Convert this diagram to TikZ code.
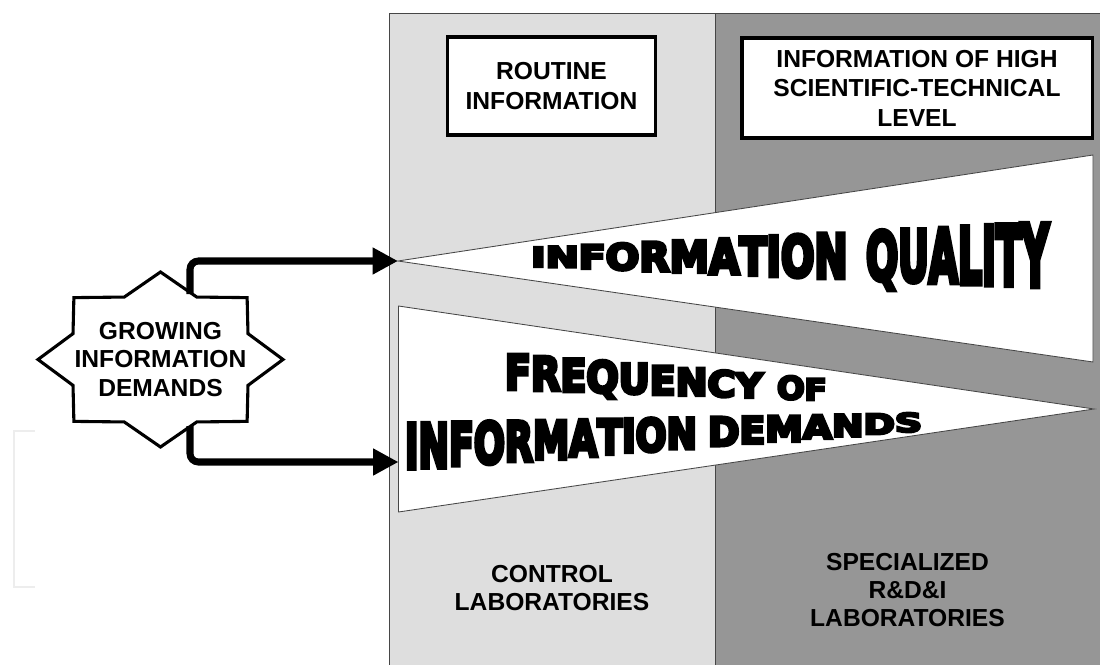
\documentclass[tikz,border=0pt]{standalone}
\usepackage{fontspec}
\usepackage{graphicx}
\usepackage{xcolor}
\usepackage{tikz}
\usetikzlibrary{arrows.meta}
\setmainfont{Liberation Sans}
\newfontfamily\artfont{DejaVu Sans Bold}[FakeBold=8]

\definecolor{lightcol}{RGB}{222,222,222}
\definecolor{darkcol}{RGB}{150,150,150}
\definecolor{edgecol}{RGB}{70,70,70}

\tikzset{
    column/.style={draw=edgecol, line width=0.6pt},
    infobox/.style={draw, line width=2.2pt, fill=white, align=center, font=\bfseries\fontsize{17.5}{21}\selectfont},
    labtext/.style={align=center, font=\bfseries\fontsize{17.5}{20}\selectfont},
    wedge/.style={draw=edgecol, line width=0.6pt, fill=white},
    starshape/.style={draw, line width=2.2pt, fill=white, line join=miter},
    arrow/.style={line width=5pt, rounded corners=6pt, -{Triangle[length=18pt,width=18pt]}},
    artletter/.style={anchor=base west, inner sep=0pt, outer sep=0pt, font=\artfont\fontsize{10}{12}\selectfont},
    faint/.style={draw=black!7, line width=1.5pt}
}

% letters of a word set one by one, each stretched to the height
% given for its x position (start x, centre y, height, x-scale, letters)
\newcommand{\artword}[5]{%
    \xdef\artx{#1}%
    \foreach \ch in {#5} {%
        \pgfmathsetmacro{\arth}{#3}%
        \pgfmathsetmacro{\arty}{#2+\arth/2}%
        \pgfmathsetmacro{\arts}{\arth/10.25}%
        \node[artletter] (artlt) at (\artx,\arty) {\scalebox{#4}[\arts]{\ch}};%
        \pgfpointanchor{artlt}{base east}\pgfgetlastxy{\artex}{\artey}%
        \pgfmathsetmacro{\artnew}{\artex/0.71132}%
        \xdef\artx{\artnew}%
    }%
}

\begin{document}
\begin{tikzpicture}[x=0.025cm, y=-0.025cm]
    \useasboundingbox (0,0) rectangle (1107,665);

    % Columns
    \fill[lightcol] (389,13) rectangle (715.5,665);
    \fill[darkcol] (715.5,13) rectangle (1100,665);
    \draw[column] (389,665) -- (389,13) -- (1100,13);
    \draw[column] (715.5,13) -- (715.5,665);

    % faint mark on the left
    \draw[faint] (35,431) -- (14,431) -- (14,587) -- (35,587);

    % Top boxes
    \node[infobox, minimum width=5.22cm, minimum height=2.45cm] (routine) at (551.5,86) {ROUTINE\\INFORMATION};
    \node[infobox, minimum width=8.75cm, minimum height=2.5cm] (highlevel) at (917,88) {INFORMATION OF HIGH\\SCIENTIFIC-TECHNICAL\\LEVEL};

    % Quality wedge
    \coordinate (qtip) at (398,261);
    \draw[wedge] (qtip) -- (1093,155) -- (1093,362) -- cycle;
    \artword{531}{257-0.004*(\artx-531)}{20+0.085*(\artx-531)}{2.82}{I,N,F,O,R,M,A,T,I,O,N}
    \artword{866}{257-0.004*(\artx-531)}{20+0.085*(\artx-531)}{2.70}{Q,U,A,L,I,T,Y}

    % Frequency wedge
    \coordinate (ftip) at (1094,409);
    \draw[wedge] (398.5,306) -- (ftip) -- (398.5,512) -- cycle;
    \coordinate (fside) at (398.5,462);
    \artword{505}{372+0.058*(\artx-505)}{35-0.044*(\artx-505)}{2.72}{F,R,E,Q,U,E,N,C,Y}
    \artword{777}{372+0.058*(\artx-505)}{35-0.044*(\artx-505)}{2.32}{O,F}
    \artword{405}{446-0.048*(\artx-405)}{45-0.053*(\artx-405)}{2.60}{I,N,F,O,R,M,A,T,I,O,N}
    \artword{708}{446-0.048*(\artx-405)}{45-0.053*(\artx-405)}{2.70}{D,E,M,A,N,D,S}

    % Bottom labels
    \node[labtext] (control) at (552,588) {CONTROL\\LABORATORIES};
    \node[labtext] (special) at (907.5,590) {SPECIALIZED\\R\&D\&I\\LABORATORIES};

    % Growing demands star
    \draw[starshape, shift={(160.5,359.5)}] (0:122.5 and 87.5)
        \foreach \a in {0,45,...,315} { -- (\a:122.5 and 87.5) -- ({\a+22.5}:94.7 and 67.6) } -- cycle;
    \node[labtext] (growing) at (160.5,359.5) {GROWING\\INFORMATION\\DEMANDS};
    \coordinate (upstart) at (190,294);
    \coordinate (downstart) at (190,426);

    % Arrows
    \draw[arrow] (upstart) |- (qtip);
    \draw[arrow] (downstart) |- (fside);
\end{tikzpicture}
\end{document}
